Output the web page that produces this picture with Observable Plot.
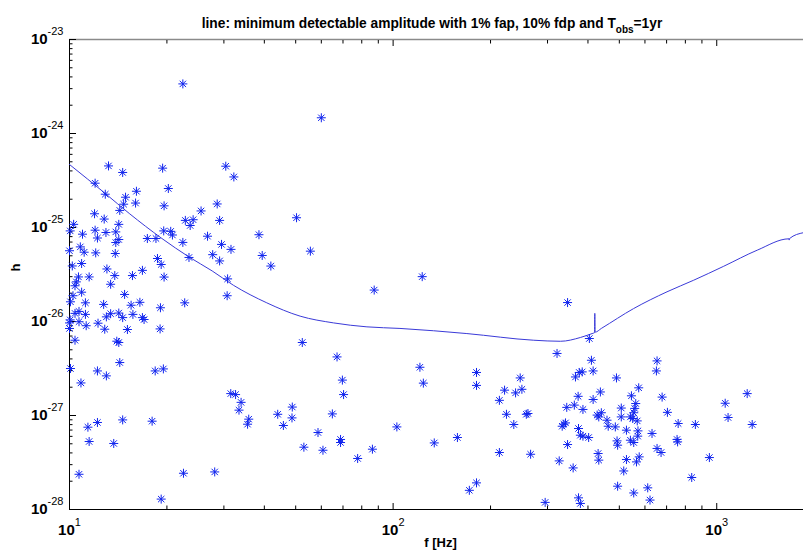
<!DOCTYPE html>
<html>
<head>
<meta charset="utf-8">
<script src="https://cdn.jsdelivr.net/npm/d3@7"></script>
<script src="https://cdn.jsdelivr.net/npm/@observablehq/plot@0.6"></script>
<style>
  body { margin: 0; background: #fff; }
  svg { display: block; }
</style>
</head>
<body>
<div id="chart"></div>
<script>
// ---- data: [frequency f (Hz), amplitude h] for each starred source ----
const starsLow = [
  [22.4,3.37e-24],[60.0,1.47e-24],[13.2,4.52e-25],[14.6,3.85e-25],[19.4,4.28e-25],[30.4,4.49e-25],
  [32.2,3.45e-25],[12.0,2.96e-25],[20.2,2.60e-25],[12.9,2.26e-25],[16.1,2.43e-25],[14.9,2.10e-25],
  [16.0,1.82e-25],[14.7,1.77e-25],[19.6,1.70e-25],[14.3,1.52e-25],[25.5,1.50e-25],[28.6,1.78e-25],
  [11.95,1.40e-25],[12.8,1.23e-25],[22.8,1.19e-25],[24.1,1.21e-25],[23.6,1.05e-25],[29.1,1.19e-25],
  [50.3,1.27e-25],[10.3,1.08e-25],[14.2,1.08e-25],[10.05,9.20e-26],[10.97,8.49e-26],[12.0,9.36e-26],
  [12.96,8.85e-26],[13.9,8.98e-26],[19.55,9.20e-26],[20.55,9.10e-26],[20.8,8.32e-26],[38.5,8.38e-26],
  [12.2,7.73e-26],[14.2,7.45e-26],[13.9,6.92e-26],[17.4,7.64e-26],[18.5,7.64e-26],[26.7,8.08e-26],
  [22.4,6.94e-26],[29.5,6.61e-26],[31.55,5.85e-26],[55.5,5.60e-26],[10.8,6.22e-26],[10.0,5.66e-26],
  [11.1,5.46e-26],[12.05,5.37e-26],[13.85,5.29e-26],[39.4,5.04e-26],[23.4,4.80e-26],[18.7,4.68e-26],
  [27.7,5.14e-26],[29.1,4.41e-26],[19.2,4.04e-26],[41.9,3.89e-26],[10.2,3.90e-26],[10.9,4.14e-26],
  [13.05,3.62e-26],[16.8,3.50e-26],[10.66,2.98e-26],[11.5,2.98e-26],[13.8,3.08e-26],[15.65,3.08e-26],
  [19.6,2.97e-26],[30.8,2.84e-26],[123,3.00e-26],[10.5,2.64e-26],[13.4,2.49e-26],[10.4,2.40e-26],
  [10.9,2.05e-26],[10.25,1.88e-26],[14.8,1.94e-26],[30.7,1.88e-26],[87.4,2.16e-26],[10.07,1.62e-26],
  [11.2,1.58e-26],[12.75,1.52e-26],[15.5,1.49e-26],[16.5,1.60e-26],[19.1,1.40e-26],[22.7,1.58e-26],
  [10.7,1.28e-26],[10.4,1.22e-26],[11.2,1.19e-26],[13.4,1.21e-26],[14.2,1.23e-26],[14.6,1.10e-26],
  [13.0,1.12e-26],[15.7,1.19e-26],[16.8,1.10e-26],[17.0,1.05e-26],[10.05,1.04e-26],[10.0,9.66e-27],
  [10.7,9.95e-27],[11.26,9.02e-27],[12.25,9.59e-27],[10.0,8.43e-27],[12.85,8.28e-27],[15.1,8.22e-27],
  [19.05,8.34e-27],[10.4,6.32e-27],[14.0,6.17e-27],[14.2,5.98e-27],[52.4,5.98e-27],[67.1,4.20e-27],
  [14.3,3.66e-27],[10.07,3.16e-27],[12.2,2.98e-27],[13.0,2.64e-27],[18.4,2.98e-27],[19.5,3.13e-27],
  [69.7,2.38e-27],[10.85,2.22e-27],[70.3,1.67e-27],[31.5,1.71e-27],[32.6,1.67e-27],[33.9,1.38e-27],
  [33.4,1.14e-27],[48.8,1.23e-27],[44.0,1.03e-27],[64.9,1.04e-27],[48.7,9.43e-28],[35.8,9.14e-28],
  [35.5,8.08e-28],[45.8,7.83e-28],[14.6,8.98e-28],[12.2,8.43e-28],[18.0,8.70e-28],[11.4,7.51e-28],
  [102.7,7.56e-28],[58.6,6.59e-28],[68.8,5.56e-28],[68.8,5.16e-28],[11.5,5.29e-28],[13.7,5.04e-28],
  [53.0,4.60e-28],[60.7,4.27e-28],[86.3,4.38e-28],[77.7,3.49e-28],[10.7,2.37e-28],[22.5,2.43e-28],
  [28.1,2.51e-28],[19.2,1.29e-28]
];
const starsHigh = [
  [346,1.59e-26],[404,6.59e-27],[321,4.57e-27],[410,3.87e-27],[654,3.81e-27],[121,3.26e-27],
  [181,2.87e-27],[651,2.98e-27],[384,2.91e-27],[376,2.87e-27],[415,2.98e-27],[366,2.57e-27],
  [247,2.51e-27],[490,2.51e-27],[124,2.21e-27],[181,2.09e-27],[221,1.86e-27],[239,1.74e-27],
  [250,1.90e-27],[574,1.97e-27],[437,1.78e-27],[373,1.60e-27],[545,1.62e-27],[678,1.57e-27],
  [415,1.48e-27],[213,1.45e-27],[1242,1.71e-27],[1062,1.35e-27],[562,1.34e-27],[558,1.19e-27],
  [363,1.29e-27],[344,1.22e-27],[386,1.16e-27],[507,1.20e-27],[704,1.08e-27],[224,1.03e-27],
  [261,1.05e-27],[258,1.03e-27],[440,1.07e-27],[432,9.66e-28],[427,1.01e-27],[507,9.66e-28],
  [541,9.66e-28],[550,9.29e-28],[554,1.07e-27],[1084,9.52e-28],[458,8.91e-28],[568,8.76e-28],
  [760,8.22e-28],[859,8.02e-28],[1287,8.02e-28],[236,8.02e-28],[337,8.08e-28],[333,7.69e-28],
  [341,8.34e-28],[462,7.69e-28],[486,7.56e-28],[374,7.27e-28],[526,6.98e-28],[571,6.86e-28],
  [631,6.44e-28],[379,6.17e-28],[386,6.03e-28],[402,5.83e-28],[570,6.03e-28],[541,5.46e-28],
  [554,5.16e-28],[492,5.37e-28],[494,4.83e-28],[754,5.56e-28],[757,5.24e-28],[134,5.11e-28],
  [158,5.83e-28],[346,4.91e-28],[654,4.46e-28],[673,4.04e-28],[213,4.04e-28],[266,3.87e-28],
  [430,3.94e-28],[432,3.35e-28],[576,3.63e-28],[565,3.21e-28],[526,3.40e-28],[949,3.57e-28],
  [326,3.29e-28],[360,2.77e-28],[516,2.57e-28],[837,2.19e-28],[181,1.92e-28],[172,1.60e-28],
  [494,1.77e-28],[612,1.70e-28],[554,1.50e-28],[622,1.26e-28],[374,1.33e-28],[379,1.16e-28],
  [295,1.19e-28]
];
// minimum detectable amplitude curve
const curveF = [10, 12.9, 15.3, 19.3, 23.4, 27.6, 32.1, 40.7, 51.6, 65.5, 83.0, 105, 169, 272, 329, 379, 412,
  419, 420, 421, 440, 553, 702, 849, 1051, 1334, 1672, 1675, 1678, 1854];
const curveH = [4.68e-25, 2.30e-25, 1.41e-25, 7.64e-26, 4.86e-26, 3.45e-26, 2.43e-26, 1.58e-26, 1.14e-26,
  9.66e-27, 8.77e-27, 8.44e-27, 7.44e-27, 6.32e-27, 6.16e-27, 6.76e-27, 7.44e-27, 7.6e-27, 1.22e-26,
  7.7e-27, 8.44e-27, 1.37e-26, 2.07e-26, 2.75e-26, 3.87e-26, 5.74e-26, 7.58e-26, 7.35e-26, 7.62e-26, 8.81e-26];

// ticks and labels
const xMajor = [10, 100, 1000];
const xExp = ["1", "2", "3"];
const xMinor = [20, 30, 40, 50, 60, 70, 80, 90, 200, 300, 400, 500, 600, 700, 800, 900];
const yMajor = [1e-28, 1e-27, 1e-26, 1e-25, 1e-24, 1e-23];
const yExp = ["-28", "-27", "-26", "-25", "-24", "-23"];
const yMinor = yMajor.slice(0, -1).flatMap(p => [2, 3, 4, 5, 6, 7, 8, 9].map(m => m * p));
const titleParts = ["line: minimum detectable amplitude with 1% fap, 10% fdp and T", "obs", "=1yr"];
const xLabel = "f [Hz]";
const yLabel = "h";

const stars = starsLow.concat(starsHigh).map(([f, h]) => ({f, h}));
const curve = curveF.map((f, i) => ({f, h: curveH[i]}));

const star8 = {
  draw(ctx, size) {
    const r = Math.sqrt(size / Math.PI), d = r * Math.SQRT1_2;
    ctx.moveTo(-r, 0); ctx.lineTo(r, 0);
    ctx.moveTo(0, -r); ctx.lineTo(0, r);
    ctx.moveTo(-d, -d); ctx.lineTo(d, d);
    ctx.moveTo(-d, d); ctx.lineTo(d, -d);
  }
};

const starColor = "#1024ee";
const lineColor = "#3a3ad8";
const blank = () => "";

const chart = Plot.plot({
  width: 803,
  height: 554,
  marginLeft: 69,
  marginRight: 0,
  marginTop: 39,
  marginBottom: 45,
  x: {type: "log", domain: [10, 1854]},
  y: {type: "log", domain: [1e-28, 1e-23]},
  style: {fontFamily: "'Liberation Sans', Arial, sans-serif", background: "#fff", color: "#000", overflow: "visible"},
  marks: [
    // axis lines
    Plot.ruleY([1e-23], {stroke: "#8a8a8a", strokeWidth: 1.6}),
    Plot.ruleY([1e-28], {stroke: "#000"}),
    Plot.ruleX([10], {stroke: "#000"}),
    // inward ticks
    Plot.axisX({anchor: "bottom", ticks: xMajor, tickSize: 6, dy: -6, tickFormat: blank, label: null}),
    Plot.axisX({anchor: "bottom", ticks: xMinor, tickSize: 3.5, dy: -3.5, tickFormat: blank, label: null}),
    Plot.axisX({anchor: "top", ticks: xMajor, tickSize: 6, dy: 6, tickFormat: blank, label: null}),
    Plot.axisX({anchor: "top", ticks: xMinor, tickSize: 3.5, dy: 3.5, tickFormat: blank, label: null}),
    Plot.axisY({anchor: "left", ticks: yMajor, tickSize: 7, dx: 7, tickFormat: blank, label: null}),
    Plot.axisY({anchor: "left", ticks: yMinor, tickSize: 3.5, dx: 3.5, tickFormat: blank, label: null}),
    // tick labels (10^k, exponents set as superscripts below)
    Plot.text(xMajor, {x: d => d, frameAnchor: "bottom", dy: 21, text: (d, i) => xExp[i], fontSize: 15,
      fontWeight: "bold", textAnchor: "middle", lineAnchor: "middle", ariaDescription: "xticklabels"}),
    Plot.text(yMajor, {y: d => d, frameAnchor: "left", dx: -6, text: (d, i) => yExp[i], fontSize: 15,
      fontWeight: "bold", textAnchor: "end", lineAnchor: "middle", ariaDescription: "yticklabels"}),
    // axis labels and title
    Plot.text([xLabel], {frameAnchor: "bottom", dx: 4, dy: 37, fontSize: 13, fontWeight: "bold"}),
    Plot.text([yLabel], {frameAnchor: "left", dx: -54, dy: -3, rotate: -90, fontSize: 13, fontWeight: "bold"}),
    Plot.text([titleParts.join("")], {frameAnchor: "top", dx: -4.5, dy: -21, fontSize: 13.75, fontWeight: "bold",
      ariaDescription: "charttitle"}),
    // data
    Plot.line(curve, {x: "f", y: "h", stroke: lineColor, strokeWidth: 1, curve: "monotone-x"}),
    Plot.dot(stars, {x: "f", y: "h", symbol: star8, r: 4.5, stroke: starColor, strokeWidth: 1, fill: "none"})
  ]
});

const svg = d3.select(chart);
function superscript(sel, shift) {
  sel.each(function () {
    const t = d3.select(this);
    const exp = t.text();
    t.text("");
    t.append("tspan").text("10");
    t.append("tspan").attr("dy", shift).attr("font-size", 11).attr("font-weight", "normal").text(exp);
  });
}
superscript(svg.selectAll('g[aria-description="xticklabels"] text'), -9);
superscript(svg.selectAll('g[aria-description="yticklabels"] text'), -9);
svg.selectAll('g[aria-description="charttitle"] text').each(function () {
  const t = d3.select(this);
  t.text("");
  t.append("tspan").text(titleParts[0]);
  t.append("tspan").attr("dy", 4.5).attr("font-size", 10).text(titleParts[1]);
  t.append("tspan").attr("dy", -4.5).attr("font-size", 13.75).text(titleParts[2]);
});

document.getElementById("chart").appendChild(chart);
</script>
</body>
</html>
